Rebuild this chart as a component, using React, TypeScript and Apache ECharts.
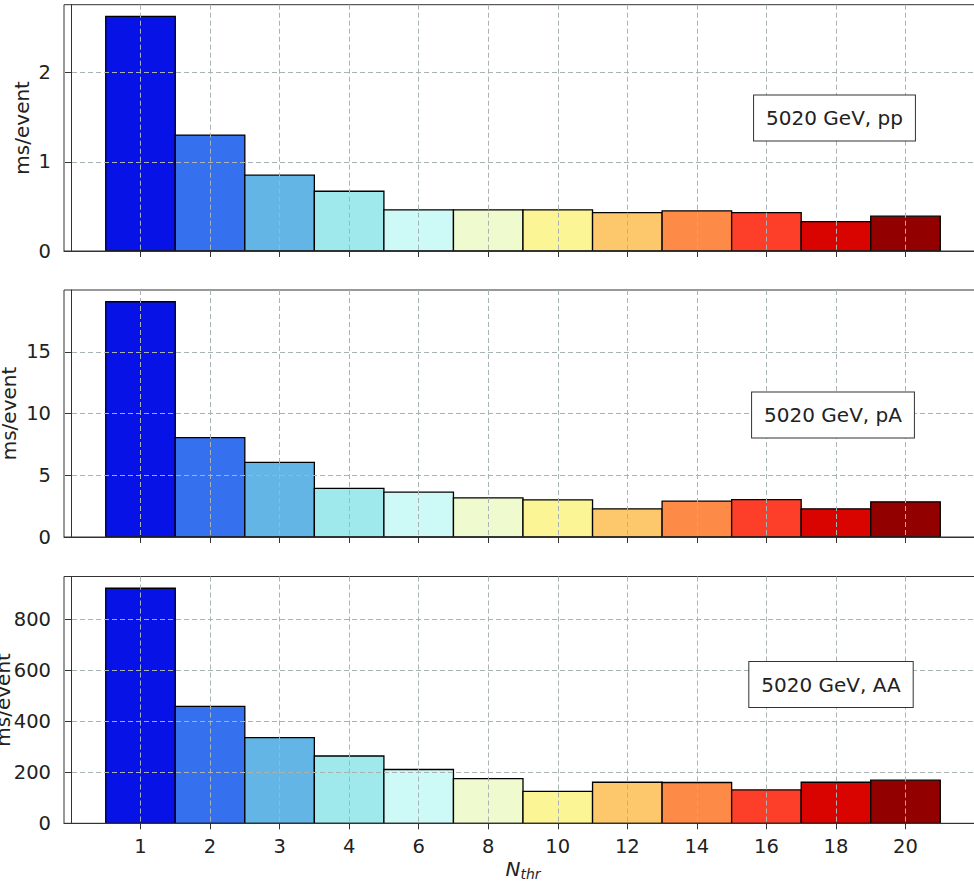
import React, { useEffect, useRef } from "react";
import * as echarts from "echarts";

// Thread counts on the horizontal axis
const categories = ["1", "2", "3", "4", "6", "8", "10", "12", "14", "16", "18", "20"];

// Time per event (ms) for each collision system
const ppValues = [2.63, 1.3, 0.85, 0.67, 0.46, 0.46, 0.46, 0.43, 0.45, 0.43, 0.33, 0.39];
const pAValues = [19.05, 8.05, 6.04, 3.93, 3.63, 3.17, 3.0, 2.28, 2.9, 3.03, 2.28, 2.85];
const AAValues = [922, 459, 336, 264, 211, 175, 125, 161, 160, 131, 161, 169];

// Y tick values for each panel
const ppTicks = [0, 1, 2];
const pATicks = [0, 5, 10, 15];
const AATicks = [0, 200, 400, 600, 800];

const panelLabels = ["5020 GeV, pp", "5020 GeV, pA", "5020 GeV, AA"];

const barColors = [
  "#0713e6",
  "#3570ee",
  "#62b5e5",
  "#9fe8eb",
  "#cdfaf7",
  "#effbce",
  "#fbf595",
  "#fdc86b",
  "#fd8a46",
  "#fd3f2a",
  "#d90300",
  "#930000",
];

const FONT = "DejaVu Sans";
const TEXT_COLOR = "#222";
const SPINE_COLOR = "#333";
const GRID_COLOR = "#aab3b3";

export default function App() {
  const ref = useRef<HTMLDivElement>(null);

  useEffect(() => {
    if (!ref.current) return;
    const chart = echarts.init(ref.current, null, { renderer: "svg" });

    const series = [ppValues, pAValues, AAValues];
    const ticks = [ppTicks, pATicks, AATicks];
    const layout = [
      { top: 4.7, height: 246.3, nameGap: 32, box: [834.5, 118] },
      { top: 290, height: 247, nameGap: 45, box: [833, 415] },
      { top: 576.5, height: 246.8, nameGap: 51, box: [831, 684.5] },
    ];
    const xIdx = categories.map((_, i) => i + 1);

    const grids = layout.map((l) => ({
      left: 64,
      top: l.top,
      width: 918,
      height: l.height,
      containLabel: false,
      outerBoundsMode: "none",
      show: true,
      borderColor: SPINE_COLOR,
      borderWidth: 1,
      backgroundColor: "transparent",
    }));

    const splitLine = {
      show: true,
      lineStyle: { color: GRID_COLOR, type: [5, 3] as any, width: 1 },
    };

    const xAxes = layout.map((_, i) => ({
      type: "value",
      gridIndex: i,
      min: -0.1,
      max: 13.1,
      axisLine: { show: true, onZero: false, lineStyle: { color: SPINE_COLOR, width: 1 } },
      axisTick: {
        show: true,
        length: 6,
        customValues: xIdx,
        lineStyle: { color: SPINE_COLOR, width: 1 },
      },
      axisLabel: {
        show: i === 2,
        customValues: xIdx,
        margin: 13,
        fontFamily: FONT,
        fontSize: 19.5,
        color: TEXT_COLOR,
        formatter: (v: number) => categories[Math.round(v) - 1] ?? "",
      },
      splitLine,
      ...(i === 2
        ? {
            name: "{n|N}{s|thr}",
            nameLocation: "middle",
            nameGap: 34,
            nameMoveOverlap: false,
            nameTextStyle: {
              rich: {
                n: { fontFamily: FONT, fontStyle: "italic", fontSize: 20, color: TEXT_COLOR },
                s: {
                  fontFamily: FONT,
                  fontStyle: "italic",
                  fontSize: 14,
                  color: TEXT_COLOR,
                  padding: [10, 0, 0, 0],
                },
              },
            },
          }
        : {}),
    }));

    const yAxes = layout.map((l, i) => ({
      type: "value",
      gridIndex: i,
      min: 0,
      max: Math.max(...series[i]) * 1.05,
      name: "ms/event",
      nameLocation: "middle",
      nameRotate: 90,
      nameGap: l.nameGap,
      nameMoveOverlap: false,
      nameTextStyle: { fontFamily: FONT, fontSize: 20, color: TEXT_COLOR },
      axisLine: { show: true, lineStyle: { color: SPINE_COLOR, width: 1 } },
      axisTick: {
        show: true,
        length: 6,
        customValues: ticks[i],
        lineStyle: { color: SPINE_COLOR, width: 1 },
      },
      axisLabel: {
        customValues: ticks[i],
        margin: 13,
        fontFamily: FONT,
        fontSize: 19.5,
        color: TEXT_COLOR,
      },
      splitLine,
    }));

    const barSeries = series.map((vals, i) => ({
      type: "custom",
      xAxisIndex: i,
      yAxisIndex: i,
      z: -1,
      encode: { x: 0, y: 1 },
      data: vals.map((v, k) => [k + 1, v]),
      renderItem: (params: any, api: any) => {
        const x = api.value(0);
        const y = api.value(1);
        const p0 = api.coord([x - 0.5, y]);
        const p1 = api.coord([x + 0.5, 0]);
        return {
          type: "rect",
          shape: { x: p0[0], y: p0[1], width: p1[0] - p0[0], height: p1[1] - p0[1] },
          style: { fill: barColors[params.dataIndex], stroke: "#000", lineWidth: 1.3 },
        };
      },
    }));

    const boxes = layout.map((l, i) => ({
      type: "text",
      x: l.box[0],
      y: l.box[1],
      z: 10,
      style: {
        text: panelLabels[i],
        font: `20px "${FONT}"`,
        fill: TEXT_COLOR,
        align: "center",
        verticalAlign: "middle",
        lineHeight: 23,
        backgroundColor: "#fff",
        borderColor: SPINE_COLOR,
        borderWidth: 1,
        padding: [11, 12],
      },
    }));

    chart.setOption({
      animation: false,
      backgroundColor: "#fff",
      grid: grids,
      xAxis: xAxes,
      yAxis: yAxes,
      series: barSeries,
      graphic: boxes,
    } as any);

    return () => chart.dispose();
  }, []);

  return (
    <div
      ref={ref}
      style={{ position: "fixed", left: 0, top: 0, width: 974, height: 886, background: "#fff" }}
    />
  );
}
